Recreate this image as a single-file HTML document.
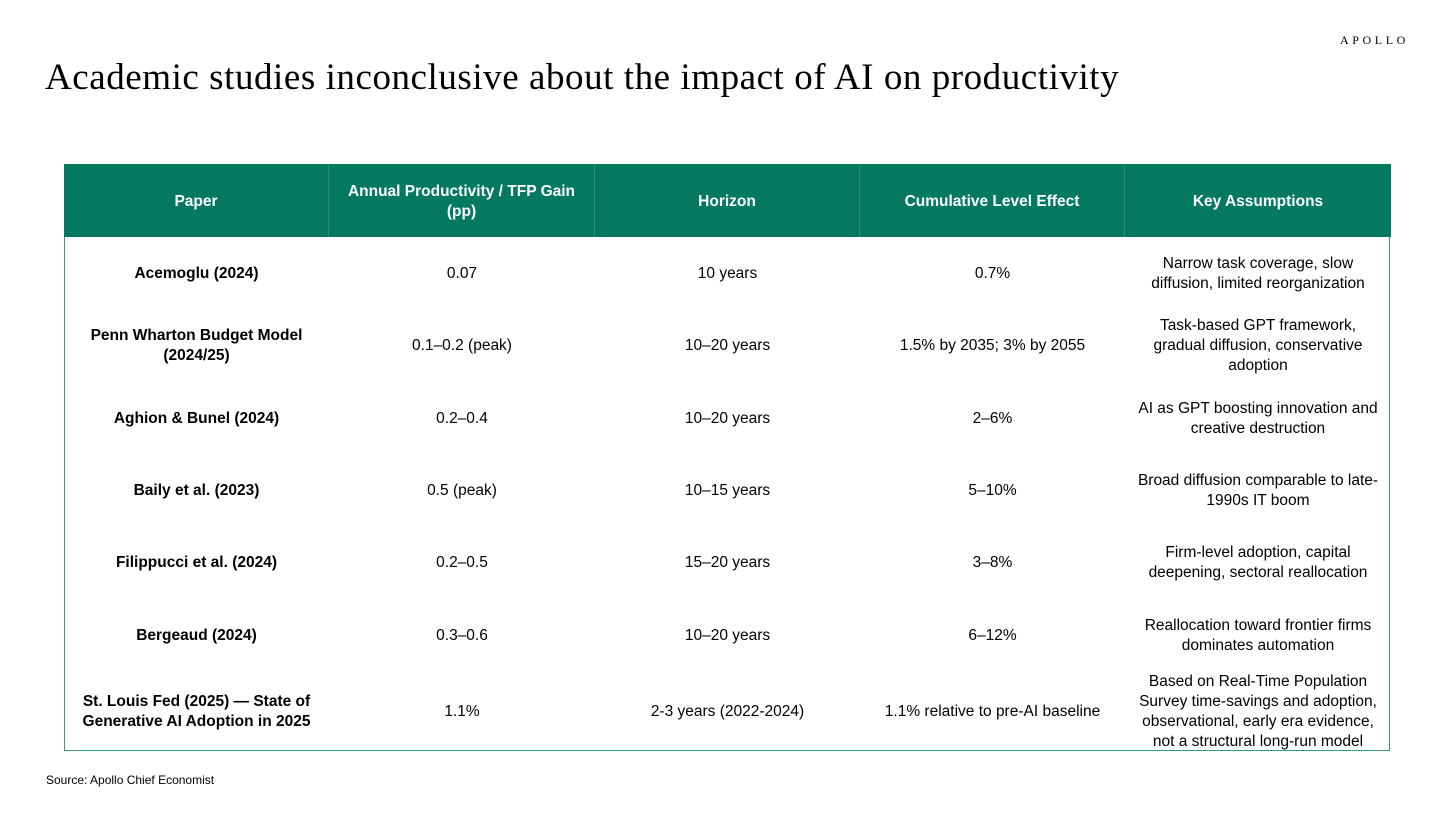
<!DOCTYPE html>
<html><head><meta charset="utf-8">
<style>
body{margin:0;width:1456px;height:817px;background:#fff;position:relative;overflow:hidden;font-family:"Liberation Sans",sans-serif;color:#000}
.abs{position:absolute}
.cell{position:absolute;display:flex;align-items:center;justify-content:center;text-align:center;font-size:15.5px;line-height:20px;box-sizing:border-box;padding:0 6px}
.hd{color:#fff;font-weight:bold;background:#037a5f;padding-top:3px}
.b{font-weight:bold}
</style></head><body>
<div class="abs" style="left:1340px;top:33px;font-family:'Liberation Serif',serif;font-size:12px;letter-spacing:3.6px">APOLLO</div>
<div class="abs" style="left:45px;top:56px;font-family:'Liberation Serif',serif;font-size:37px;letter-spacing:0.55px">Academic studies inconclusive about the impact of AI on productivity</div>
<div class="abs" style="left:64px;top:164px;width:1326px;height:587px;border:1px solid #3a9a80;box-sizing:border-box"></div>
<div id="t"></div>
<div class="abs" style="left:46px;top:773px;font-size:12px">Source: Apollo Chief Economist</div>
<script>
const headers=["Paper","Annual Productivity / TFP Gain<br>(pp)","Horizon","Cumulative Level Effect","Key Assumptions"];
const papers=["Acemoglu (2024)","Penn Wharton Budget Model<br>(2024/25)","Aghion &amp; Bunel (2024)","Baily et al. (2023)","Filippucci et al. (2024)","Bergeaud (2024)","St. Louis Fed (2025) — State of<br>Generative AI Adoption in 2025"];
const gains=["0.07","0.1–0.2 (peak)","0.2–0.4","0.5 (peak)","0.2–0.5","0.3–0.6","1.1%"];
const horizons=["10 years","10–20 years","10–20 years","10–15 years","15–20 years","10–20 years","2-3 years (2022-2024)"];
const effects=["0.7%","1.5% by 2035; 3% by 2055","2–6%","5–10%","3–8%","6–12%","1.1% relative to pre-AI baseline"];
const assumptions=["Narrow task coverage, slow<br>diffusion, limited reorganization","Task-based GPT framework,<br>gradual diffusion, conservative<br>adoption","AI as GPT boosting innovation and<br>creative destruction","Broad diffusion comparable to late-<br>1990s IT boom","Firm-level adoption, capital<br>deepening, sectoral reallocation","Reallocation toward frontier firms<br>dominates automation","Based on Real-Time Population<br>Survey time-savings and adoption,<br>observational, early era evidence,<br>not a structural long-run model"];
const colX=[64,329,595,860,1125,1391];
const rowY=[237,310,382,455,527,599,672,751];
const t=document.getElementById('t');
headers.forEach((h,i)=>{
 const d=document.createElement('div');
 d.className='cell hd';
 
 
 d.style.cssText=`left:${colX[i]}px;top:164px;width:${colX[i+1]-colX[i]}px;height:73px;`+(i<4?'border-right:1px solid #2a8c72;':'');
 d.innerHTML=h;t.appendChild(d);
});
const cols=[papers,gains,horizons,effects,assumptions];
papers.forEach((_,r)=>{
 cols.forEach((c,i)=>{
  const d=document.createElement('div');
  d.className='cell'+(i==0?' b':'');
  
  
  d.style.cssText=`left:${colX[i]}px;top:${rowY[r]}px;width:${colX[i+1]-colX[i]}px;height:${rowY[r+1]-rowY[r]}px;`;
  d.innerHTML=c[r];t.appendChild(d);
 });
});
</script>
</body></html>
